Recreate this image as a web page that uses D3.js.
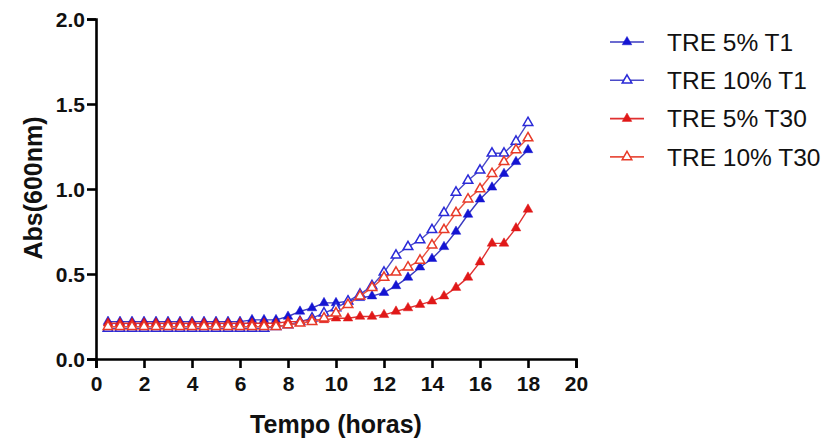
<!DOCTYPE html>
<html><head><meta charset="utf-8">
<script src="https://cdn.jsdelivr.net/npm/d3@7"></script>
<style>body{margin:0;background:#fff;} svg{display:block;font-family:"Liberation Sans",Arial,sans-serif;}</style>
</head><body>
<svg id="c" width="835" height="443"></svg>
<script>
const times = [0.5,1,1.5,2,2.5,3,3.5,4,4.5,5,5.5,6,6.5,7,7.5,8,8.5,9,9.5,10,10.5,11,11.5,12,12.5,13,13.5,14,14.5,15,15.5,16,16.5,17,17.5,18];
const tre5T1  = [0.22,0.22,0.22,0.22,0.22,0.22,0.22,0.22,0.22,0.22,0.22,0.22,0.23,0.23,0.23,0.25,0.28,0.30,0.33,0.33,0.34,0.36,0.37,0.39,0.43,0.48,0.54,0.59,0.66,0.75,0.85,0.94,1.01,1.09,1.16,1.23];
const tre10T1 = [0.18,0.18,0.18,0.18,0.18,0.18,0.18,0.18,0.18,0.18,0.18,0.18,0.18,0.18,0.19,0.20,0.22,0.24,0.27,0.30,0.34,0.38,0.43,0.51,0.61,0.66,0.70,0.76,0.86,0.98,1.05,1.11,1.21,1.21,1.28,1.39];
const tre5T30 = [0.21,0.21,0.21,0.21,0.21,0.21,0.21,0.21,0.21,0.21,0.21,0.21,0.21,0.21,0.21,0.22,0.22,0.23,0.23,0.24,0.24,0.25,0.25,0.26,0.28,0.30,0.32,0.34,0.37,0.42,0.48,0.57,0.68,0.68,0.77,0.88];
const tre10T30= [0.19,0.19,0.19,0.19,0.19,0.19,0.19,0.19,0.19,0.19,0.19,0.19,0.19,0.19,0.19,0.20,0.21,0.22,0.24,0.27,0.32,0.37,0.42,0.48,0.51,0.54,0.58,0.67,0.76,0.86,0.94,1.00,1.09,1.16,1.23,1.30];
const seriesNames = ["TRE 5% T1","TRE 10% T1","TRE 5% T30","TRE 10% T30"];
const xTicks = [0,2,4,6,8,10,12,14,16,18,20];
const yTicks = [0.0,0.5,1.0,1.5,2.0];

const series = [
  {name:seriesNames[0], values:tre5T1,  color:"#1414d2", line:"#3a3ac0", filled:true},
  {name:seriesNames[1], values:tre10T1, color:"#2a2ad8", line:"#4a4ac8", filled:false},
  {name:seriesNames[2], values:tre5T30, color:"#e01818", line:"#e03030", filled:true},
  {name:seriesNames[3], values:tre10T30,color:"#e83a28", line:"#e85040", filled:false}
];

const svg = d3.select("#c");
const x = d3.scaleLinear().domain([0,20]).range([96,576]);
const y = d3.scaleLinear().domain([0,2]).range([359,19]);

const tri = d3.symbol().type(d3.symbolTriangle).size(40);

const gData = svg.append("g");
series.forEach(s=>{
  const pts = times.map((t,i)=>[t,s.values[i]]);
  gData.append("path").datum(pts)
    .attr("fill","none").attr("stroke",s.line).attr("stroke-width",1.4)
    .attr("d", d3.line().x(d=>x(d[0])).y(d=>y(d[1])));
  gData.selectAll(null).data(pts).enter().append("path")
    .attr("d", tri)
    .attr("transform", d=>`translate(${x(d[0])},${y(d[1])})`)
    .attr("fill", s.filled ? s.color : "#fff")
    .attr("stroke", s.color).attr("stroke-width", s.filled?0.5:1.5);
});

const xAxis = svg.append("g").attr("transform","translate(0,359)")
  .call(d3.axisBottom(x).tickValues(xTicks).tickFormat(d3.format("d")).tickSizeOuter(0).tickSize(9).tickPadding(8));
const yAxis = svg.append("g").attr("transform","translate(96,0)")
  .call(d3.axisLeft(y).tickValues(yTicks).tickFormat(d3.format(".1f")).tickSizeOuter(0).tickSize(9).tickPadding(2));
[xAxis,yAxis].forEach(a=>{
  a.select(".domain").attr("stroke","#000").attr("stroke-width",2.6);
  a.selectAll(".tick line").attr("stroke","#000").attr("stroke-width",2.6);
  a.selectAll(".tick text").attr("fill","#111").attr("font-size",21).attr("font-weight","bold")
   .attr("font-family","'Liberation Sans',Arial,sans-serif");
});
yAxis.selectAll(".tick text").attr("dy","0.36em");

svg.append("text").attr("x",336).attr("y",433).attr("text-anchor","middle")
  .attr("font-size",25).attr("font-weight","bold").attr("fill","#111").text("Tempo (horas)");
svg.append("text").attr("transform","translate(42,188) rotate(-90)").attr("text-anchor","middle")
  .attr("font-size",25).attr("font-weight","bold").attr("fill","#111").text("Abs(600nm)");

const leg = svg.append("g");
series.forEach((s,i)=>{
  const yy = 42 + i*38.3;
  leg.append("line").attr("x1",610).attr("x2",644).attr("y1",yy).attr("y2",yy)
    .attr("stroke",s.line).attr("stroke-width",1.6);
  leg.append("path").attr("d",tri).attr("transform",`translate(627,${yy})`)
    .attr("fill", s.filled ? s.color : "#fff").attr("stroke",s.color).attr("stroke-width",s.filled?0.5:1.5);
  leg.append("text").attr("x",667).attr("y",yy).attr("dy","0.36em")
    .attr("font-size",24.5).attr("fill","#111").text(s.name);
});
</script>
</body></html>
